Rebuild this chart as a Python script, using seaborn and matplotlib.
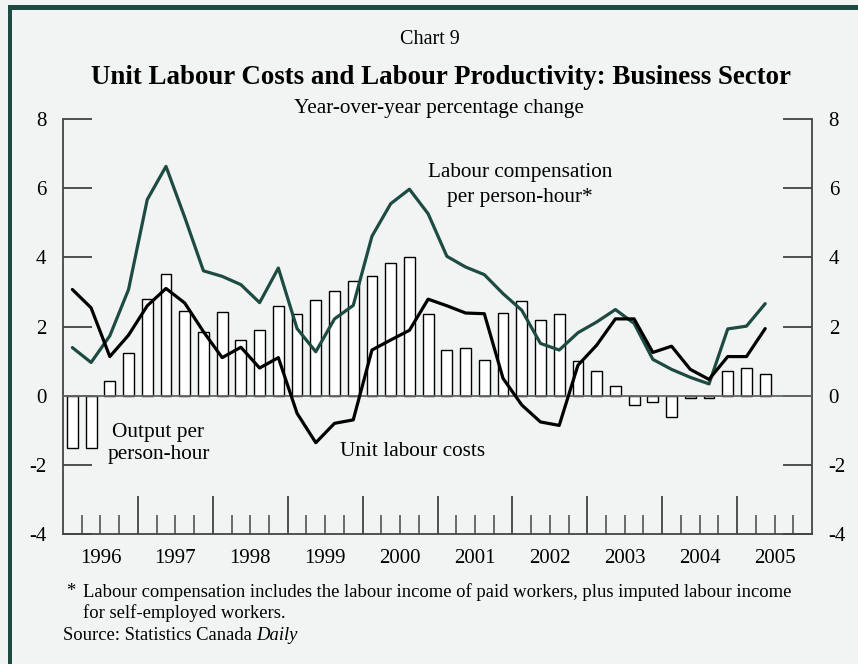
import numpy as np
import pandas as pd
import matplotlib
matplotlib.use("Agg")
import matplotlib.pyplot as plt
from matplotlib.patches import Rectangle
import seaborn as sns

# Quarterly data, 1996Q1 .. 2005Q2
YEARS = list(range(1996, 2006))
output_per_hour = [-1.51, -1.51, 0.41, 1.24, 2.79, 3.52, 2.46, 1.83, 2.42, 1.61,
                   1.90, 2.60, 2.37, 2.76, 3.04, 3.31, 3.46, 3.84, 4.00, 2.36,
                   1.31, 1.39, 1.02, 2.39, 2.75, 2.19, 2.37, 0.99, 0.72, 0.27,
                   -0.27, -0.17, -0.62, -0.08, -0.08, 0.72, 0.81, 0.63]
comp_per_hour = [1.39, 0.96, 1.73, 3.07, 5.67, 6.63, 5.16, 3.61, 3.45, 3.21,
                 2.69, 3.69, 1.94, 1.27, 2.22, 2.61, 4.61, 5.55, 5.97, 5.26,
                 4.03, 3.72, 3.50, 2.95, 2.47, 1.51, 1.32, 1.82, 2.13, 2.49,
                 2.09, 1.05, 0.76, 0.53, 0.34, 1.93, 2.01, 2.66]
unit_labour_costs = [3.07, 2.54, 1.13, 1.75, 2.60, 3.10, 2.68, 1.85, 1.10, 1.40,
                     0.80, 1.10, -0.51, -1.36, -0.80, -0.70, 1.32, 1.61, 1.89, 2.79,
                     2.60, 2.39, 2.37, 0.50, -0.27, -0.76, -0.86, 0.88, 1.46, 2.22,
                     2.22, 1.25, 1.43, 0.76, 0.47, 1.13, 1.13, 1.94]
y_ticks = [-4, -2, 0, 2, 4, 6, 8]

q = np.arange(len(output_per_hour))
df = pd.DataFrame({"q": q, "output": output_per_hour,
                   "comp": comp_per_hour, "ulc": unit_labour_costs})

BG = "#f2f4f3"
GREEN = "#1d4a41"
AX_GRAY = "#444444"
FS = 15

sns.set_theme(style="ticks")
plt.rcParams["font.family"] = ["Liberation Serif", "DejaVu Serif"]
plt.rcParams["text.color"] = "black"

fig = plt.figure(figsize=(8.58, 6.64), dpi=100, facecolor=BG)
ax = fig.add_axes([63 / 858, 1 - 534 / 664, 749 / 858, 415 / 664])
ax.set_facecolor(BG)

sns.barplot(data=df, x="q", y="output", color="white", edgecolor="black",
            linewidth=1.0, width=0.58, saturation=1, ax=ax, zorder=2)
sns.lineplot(data=df, x="q", y="comp", color=GREEN, lw=2.3, ax=ax, zorder=4)
sns.lineplot(data=df, x="q", y="ulc", color="black", lw=2.3, ax=ax, zorder=5)
ax.axhline(0, color="#666666", lw=1.3, zorder=3)

ax.set_xlim(-0.5, 39.5)
ax.set_ylim(-4, 8)
ax.set_xlabel("")
ax.set_ylabel("")

# y axis: ticks inward on both sides
ax.set_yticks(y_ticks)
ax.set_yticklabels([str(v) for v in y_ticks])
ax.tick_params(axis="y", direction="in", length=21, width=1.1, color="#222222",
               left=True, right=True, labelleft=True, labelright=True,
               labelsize=FS, pad=12, labelcolor="black")

# x axis: year boundaries long ticks, quarter boundaries short ticks
year_bounds = [3.5 + 4 * k for k in range(9)]
quarter_bounds = [b + 0.5 for b in range(39) if (b + 0.5) not in year_bounds]
ax.set_xticks(year_bounds)
ax.set_xticklabels([])
ax.set_xticks(quarter_bounds, minor=True)
ax.tick_params(axis="x", which="major", direction="in", length=27.5, width=1.1,
               color="#222222")
ax.tick_params(axis="x", which="minor", direction="in", length=13.7, width=1.1,
               color="#444444", bottom=True)
for i, yr in enumerate(YEARS):
    ax.text(1.5 + 4 * i, -0.058, str(yr), transform=ax.get_xaxis_transform(),
            ha="center", va="center", fontsize=FS)

for side in ["left", "right", "bottom"]:
    ax.spines[side].set_color(AX_GRAY)
    ax.spines[side].set_linewidth(1.3)
ax.spines["top"].set_visible(False)

# series labels
ax.text(23.9, 6.1, "Labour compensation\nper person-hour*", ha="center",
        va="center", fontsize=15.3, linespacing=1.4)
ax.text(4.6, -1.38, "Output per\nperson-hour", ha="center", va="center",
        fontsize=15.3, linespacing=1.17)
ax.text(18.15, -1.6, "Unit labour costs", ha="center", va="center", fontsize=15.3)

# titles
fig.text(430 / 858, 1 - 40 / 664, "Chart 9", ha="center", va="center", fontsize=14.5)
fig.text(441 / 858, 1 - 77 / 664,
         "Unit Labour Costs and Labour Productivity: Business Sector",
         ha="center", va="center", fontsize=19.4, fontweight="bold")
fig.text(439 / 858, 1 - 108 / 664, "Year-over-year percentage change",
         ha="center", va="center", fontsize=15.3)

# footnotes
FN = 13.4
fig.text(66 / 858, 1 - 592 / 664, "*", ha="left", va="center", fontsize=FN)
fig.text(83 / 858, 1 - 592 / 664,
         "Labour compensation includes the labour income of paid workers, "
         "plus imputed labour income", ha="left", va="center", fontsize=FN)
fig.text(83 / 858, 1 - 613 / 664, "for self-employed workers.", ha="left",
         va="center", fontsize=FN)
src = fig.text(63 / 858, 1 - 635 / 664, "Source: Statistics Canada ", ha="left",
               va="center", fontsize=FN)
fig.canvas.draw()
bb = src.get_window_extent(fig.canvas.get_renderer())
fig.text(bb.x1 / fig.bbox.width, 1 - 635 / 664, "Daily", ha="left", va="center",
         fontsize=FN, style="italic")

# dark green frame (top and left edges)
fig.add_artist(Rectangle((8 / 858, 0), 4 / 858, 1 - 5 / 664, transform=fig.transFigure,
                         color=GREEN, lw=0))
fig.add_artist(Rectangle((8 / 858, 1 - 10 / 664), 1, 5 / 664, transform=fig.transFigure,
                         color=GREEN, lw=0))

fig.savefig("out.png", dpi=100, facecolor=BG)
